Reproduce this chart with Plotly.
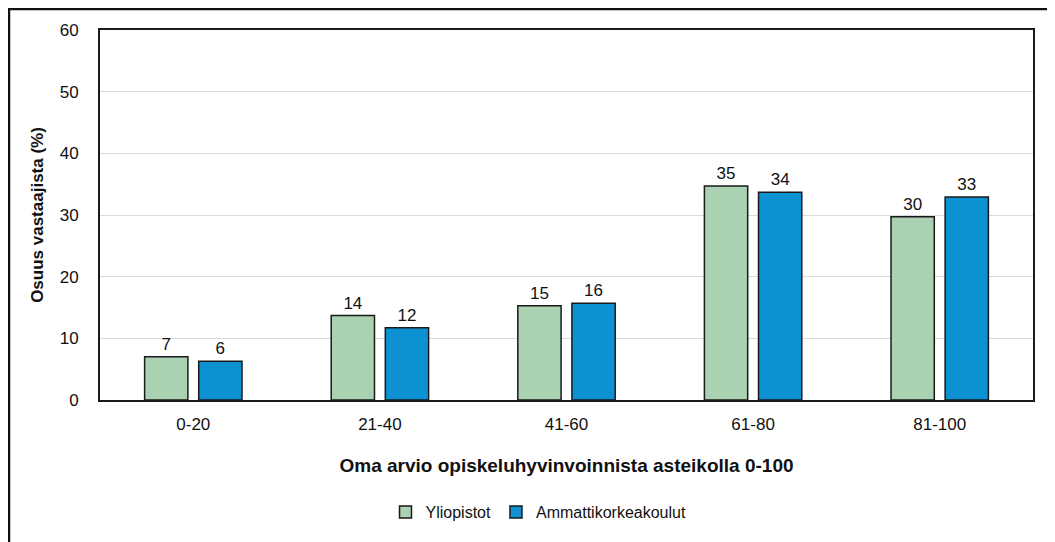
import plotly.graph_objects as go

categories = ["0-20", "21-40", "41-60", "61-80", "81-100"]
yliopistot = [7.0, 13.7, 15.3, 34.7, 29.7]
amk = [6.3, 11.7, 15.7, 33.7, 32.9]
series_names = ["Yliopistot", "Ammattikorkeakoulut"]
y_ticks = [0, 10, 20, 30, 40, 50, 60]

FONT = "Liberation Sans Narrow, Arial Narrow, Liberation Sans, Arial, sans-serif"

fig = go.Figure()
fig.add_trace(go.Bar(
    x=categories, y=yliopistot, name=series_names[0],
    marker=dict(color="#A9D1B2", line=dict(color="#1a1a1a", width=1.5)),
    text=[f"{v:.0f}" for v in yliopistot], textposition="outside",
    textfont=dict(size=17, color="#111111", family=FONT), cliponaxis=False,
))
fig.add_trace(go.Bar(
    x=categories, y=amk, name=series_names[1],
    marker=dict(color="#0E91D2", line=dict(color="#1a1a1a", width=1.5)),
    text=[f"{v:.0f}" for v in amk], textposition="outside",
    textfont=dict(size=17, color="#111111", family=FONT), cliponaxis=False,
))

# page has an 8px body margin; compensate so the picture lands where the reference does
OFF = 8
W, H = 1055 - OFF, 542 - OFF
ml, mr, mt, mb = 100 - OFF, 22, 30 - OFF, 142
pw, ph = W - ml - mr, H - mt - mb

def fx(x):  # figure-pixel x -> paper
    return (x - ml) / pw

def fy(y):  # figure-pixel y -> paper
    return (H - mb - y) / ph

fig.update_layout(
    width=W, height=H,
    margin=dict(l=ml, r=mr, t=mt, b=mb),
    paper_bgcolor="white", plot_bgcolor="white",
    font=dict(family=FONT, size=17, color="#111111"),
    barmode="group", bargap=0.42, bargroupgap=0.2,
    showlegend=True,
    legend=dict(orientation="h", x=0.47, xanchor="center", y=fy(512 - OFF), yanchor="middle",
                font=dict(size=16, family=FONT), traceorder="normal"),
    xaxis=dict(
        title=dict(text="<b>Oma arvio opiskeluhyvinvoinnista asteikolla 0-100</b>",
                   font=dict(size=19, family=FONT), standoff=25),
        showline=True, linecolor="#1a1a1a", linewidth=2, mirror=True,
        ticks="", tickfont=dict(size=17, family=FONT), showgrid=False,
        ticklabelstandoff=8,
    ),
    yaxis=dict(
        title=dict(text="<b>Osuus vastaajista (%)</b>", font=dict(size=17, family=FONT), standoff=12),
        range=[0, 60], tickvals=y_ticks, showline=True, linecolor="#1a1a1a", linewidth=2,
        mirror=True, gridcolor="#d9d9d9", gridwidth=1, ticks="",
        tickfont=dict(size=17, family=FONT), zeroline=False,
        ticklabelstandoff=16,
    ),
    shapes=[dict(type="rect", xref="paper", yref="paper",
                 x0=fx(1), x1=fx(W + 20), y0=fy(H + 20), y1=fy(1),
                 line=dict(color="#111111", width=2.5), layer="below")],
)

fig.write_html("out.html")
